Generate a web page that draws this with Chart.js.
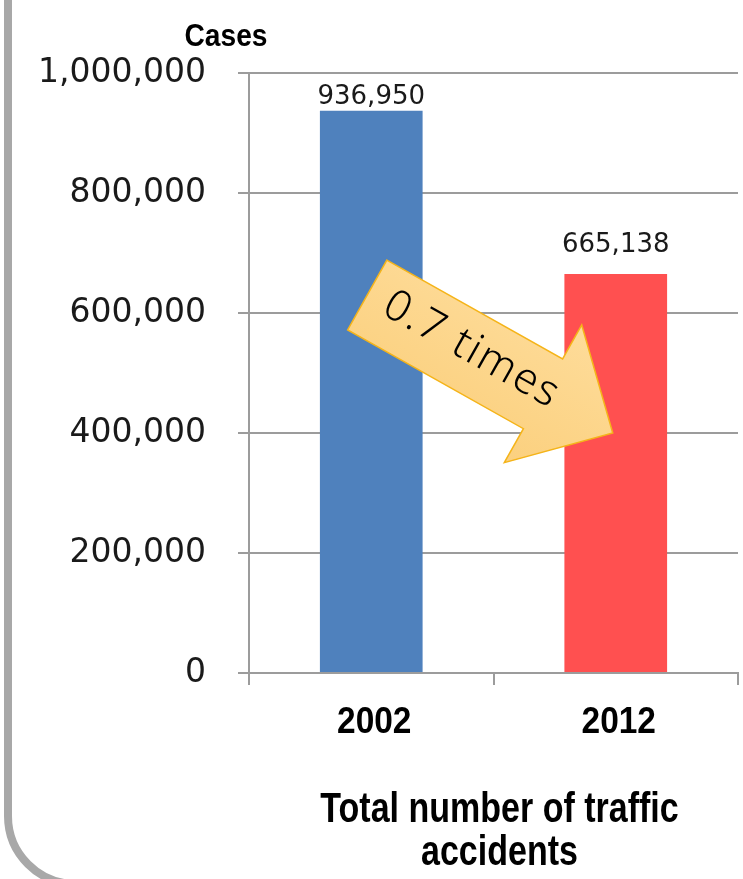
<!DOCTYPE html>
<html>
<head>
<meta charset="utf-8">
<script src="https://cdn.jsdelivr.net/npm/chart.js@4.4.1/dist/chart.umd.min.js"></script>
<style>
  html, body { margin: 0; padding: 0; background: #fff; overflow: hidden; }
  #wrap { position: relative; width: 743px; height: 879px; overflow: hidden; }
  /* rounded grey frame, only the left side and bottom-left corner are visible */
  #frame {
    position: absolute; left: 4px; top: -200px; width: 1200px; height: 1088px;
    box-sizing: border-box; border: 8px solid #a8a8a8; border-radius: 72px;
  }
  #chart { position: absolute; left: 0; top: 0; }
</style>
</head>
<body>
<div id="wrap">
  <div id="frame"></div>
  <canvas id="chart" width="743" height="879"></canvas>
</div>
<script>
// Data
const categories = ['2002', '2012'];
const accidents = [936950, 665138];
const barColors = ['#4f81bd', '#ff5050'];
const yTicks = [0, 200000, 400000, 600000, 800000, 1000000];
const unitLabel = 'Cases';
const chartTitle = ['Total number of traffic', 'accidents'];
// the "0.7 times" arrow goes from above the 2002 bar to the 2012 bar
const arrowText = '0.7 times';
const arrowFromValue = 630000;
const arrowToValue = 400000;

const gridColor = '#9c9c9c';

const fmt = v => v.toLocaleString('en-US');

// draws narrow bold text (the picture uses a condensed gothic face)
function narrowText(ctx, text, x, y, size, squeeze) {
    ctx.save();
    ctx.translate(x, y);
    ctx.scale(squeeze, 1);
    ctx.font = 'bold ' + size + 'px "Liberation Sans", Arial, sans-serif';
    ctx.textAlign = 'center';
    ctx.textBaseline = 'alphabetic';
    ctx.fillStyle = '#000';
    ctx.fillText(text, 0, 0);
    ctx.restore();
}

// value labels above bars, category labels, unit label, title and the arrow
const extras = {
    id: 'extras',
    afterDatasetsDraw(chart) {
        const ctx = chart.ctx;
        const xs = chart.scales.x, ys = chart.scales.y;
        const area = chart.chartArea;
        const meta = chart.getDatasetMeta(0);

        ctx.save();
        ctx.fillStyle = '#1a1a1a';
        ctx.font = '26px "DejaVu Sans"';
        ctx.textAlign = 'center';
        ctx.textBaseline = 'alphabetic';
        const gaps = [7, 22];
        meta.data.forEach((bar, i) => {
            ctx.fillText(fmt(accidents[i]), bar.x, bar.y - gaps[i]);
        });
        ctx.restore();

        // category labels under the axis
        categories.forEach((c, i) => {
            narrowText(ctx, c, xs.getPixelForTick(i) + 3, area.bottom + 60, 36, 0.93);
        });
        narrowText(ctx, unitLabel, area.left - 23, area.top - 27, 32, 0.88);
        const cx = (area.left + area.right) / 2 + 6;
        chartTitle.forEach((line, i) => {
            narrowText(ctx, line, cx, area.bottom + 149 + i * 43, 42, 0.81);
        });

        // arrow
        const x0 = xs.getPixelForValue(0) - 4, y0 = ys.getPixelForValue(arrowFromValue);
        const x1 = xs.getPixelForValue(1) - 3, y1 = ys.getPixelForValue(arrowToValue);
        const len = Math.hypot(x1 - x0, y1 - y0);
        const ang = Math.atan2(y1 - y0, x1 - x0);
        const sw = 40, hw = 79, hl = 80;
        ctx.save();
        ctx.translate(x0, y0);
        ctx.rotate(ang);
        ctx.beginPath();
        ctx.moveTo(0, -sw);
        ctx.lineTo(len - hl, -sw);
        ctx.lineTo(len - hl, -hw);
        ctx.lineTo(len, 0);
        ctx.lineTo(len - hl, hw);
        ctx.lineTo(len - hl, sw);
        ctx.lineTo(0, sw);
        ctx.closePath();
        const g = ctx.createLinearGradient(0, -hw, 0, hw);
        g.addColorStop(0, '#fedc9a');
        g.addColorStop(1, '#fbd07e');
        ctx.fillStyle = g;
        ctx.fill();
        ctx.strokeStyle = '#f5b419';
        ctx.lineWidth = 1.5;
        ctx.stroke();

        ctx.fillStyle = '#000';
        ctx.font = '300 43px "Noto Sans"';
        ctx.letterSpacing = '2px';
        ctx.textAlign = 'center';
        ctx.textBaseline = 'middle';
        ctx.fillText(arrowText, 118, -3);
        ctx.restore();
    }
};

new Chart(document.getElementById('chart'), {
    type: 'bar',
    data: {
        labels: categories,
        datasets: [{
            label: 'Total number of traffic accidents',
            data: accidents,
            backgroundColor: barColors,
            borderWidth: 0,
            barPercentage: 0.42,
            categoryPercentage: 1.0
        }]
    },
    options: {
        responsive: false,
        animation: false,
        layout: { padding: { top: 73, right: 5, left: 0, bottom: 194 } },
        plugins: {
            legend: { display: false },
            tooltip: { enabled: false },
            title: { display: false }
        },
        scales: {
            x: {
                grid: { display: true, drawOnChartArea: false, color: gridColor, lineWidth: 2, tickLength: 12, offset: true },
                border: { color: gridColor, width: 2 },
                ticks: { display: false }
            },
            y: {
                min: 0,
                max: 1000000,
                afterBuildTicks: s => { s.ticks = yTicks.map(v => ({ value: v })); },
                afterFit: s => { s.width = 249; },
                grid: { color: gridColor, lineWidth: 2, tickLength: 11 },
                border: { color: gridColor, width: 2 },
                ticks: {
                    color: '#1a1a1a',
                    padding: 32,
                    font: { family: 'DejaVu Sans', size: 33 },
                    callback: v => fmt(v)
                }
            }
        }
    },
    plugins: [extras]
});
</script>
</body>
</html>
